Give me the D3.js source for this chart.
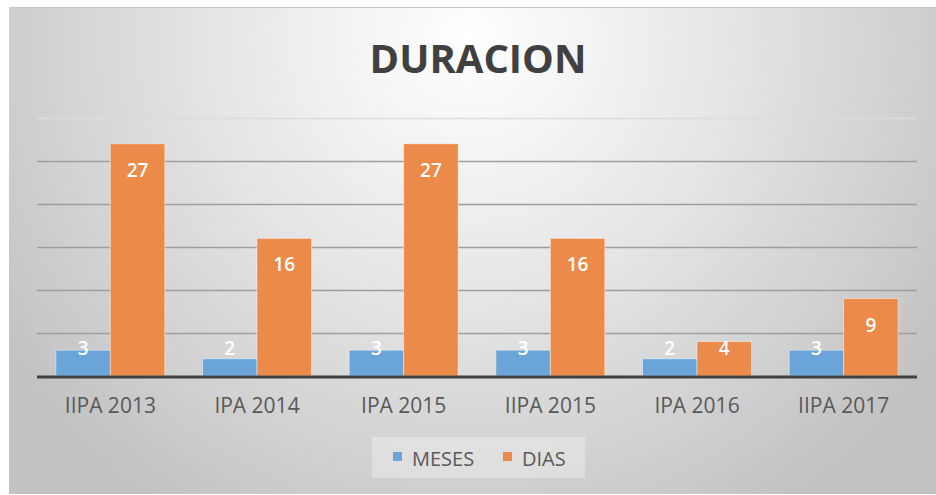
<!DOCTYPE html>
<html>
<head>
<meta charset="utf-8">
<script src="https://cdn.jsdelivr.net/npm/d3@7"></script>
<style>
  body { margin: 0; background: #fff; }
  svg { display: block; font-family: "Open Sans", sans-serif; }
</style>
</head>
<body>
<svg width="936" height="495"></svg>
<script>
let categories = ["IIPA 2013", "IPA 2014", "IPA 2015", "IIPA 2015", "IPA 2016", "IIPA 2017"];
let meses = [3, 2, 3, 3, 2, 3];
let dias = [27, 16, 27, 16, 4, 9];
let seriesNames = ["MESES", "DIAS"];
let yTicks = [5, 10, 15, 20, 25, 30];

let width = 936;
let height = 495;
let colors = ["#6aa4d9", "#ec8a49"];

let svg = d3.select("svg");

// background gradient like the excel chart style
let defs = svg.append("defs");
let grad = defs.append("radialGradient")
    .attr("id", "bg")
    .attr("gradientUnits", "userSpaceOnUse")
    .attr("cx", 470).attr("cy", 40).attr("r", 560);
grad.append("stop").attr("offset", "0%").attr("stop-color", "#ffffff");
grad.append("stop").attr("offset", "45%").attr("stop-color", "#e6e6e6");
grad.append("stop").attr("offset", "100%").attr("stop-color", "#c2c2c2");

svg.append("rect")
    .attr("x", 9).attr("y", 7)
    .attr("width", width - 9).attr("height", 487)
    .attr("fill", "url(#bg)");
svg.append("line")
    .attr("x1", 9).attr("x2", width).attr("y1", 7.5).attr("y2", 7.5)
    .attr("stroke", "#c8c8c8");

let rows = categories.map((c, i) => ({ category: c, values: [meses[i], dias[i]] }));

let x = d3.scaleBand()
    .domain(categories)
    .range([37, 917])
    .paddingInner(0.257)
    .paddingOuter(0.1285);

let xSub = d3.scaleBand()
    .domain(seriesNames)
    .range([0, x.bandwidth()]);

let y = d3.scaleLinear()
    .domain([0, 30])
    .range([376, 118]);

// gridlines
svg.append("g")
    .selectAll("line")
    .data(yTicks)
    .enter()
    .append("line")
    .attr("x1", 37).attr("x2", 917)
    .attr("y1", d => Math.round(y(d)) + 0.5)
    .attr("y2", d => Math.round(y(d)) + 0.5)
    .attr("stroke", d => d === 30 ? "#dcdcdc" : "#9e9e9e")
    .attr("stroke-width", 1.3);

// bars
let groups = svg.append("g")
    .selectAll(".group")
    .data(rows)
    .enter()
    .append("g")
    .attr("class", "group")
    .attr("transform", d => `translate(${x(d.category)},0)`);

groups.selectAll("rect")
    .data(d => d.values.map((v, i) => ({ name: seriesNames[i], value: v, i: i })))
    .enter()
    .append("rect")
    .attr("x", d => xSub(d.name))
    .attr("width", xSub.bandwidth())
    .attr("y", d => y(d.value))
    .attr("height", d => y(0) - y(d.value))
    .attr("fill", d => colors[d.i])
    .attr("stroke", "rgba(255,255,255,0.45)")
    .attr("stroke-width", 1);

groups.selectAll("text")
    .data(d => d.values.map((v, i) => ({ name: seriesNames[i], value: v, i: i })))
    .enter()
    .append("text")
    .attr("x", d => xSub(d.name) + xSub.bandwidth() / 2)
    .attr("y", d => Math.min(y(d.value) + 33, y(0) - 21))
    .attr("text-anchor", "middle")
    .attr("fill", "#ffffff")
    .attr("font-size", 19)
    .attr("font-weight", 600)
    .text(d => d.value);

// axis line
svg.append("line")
    .attr("x1", 37).attr("x2", 917)
    .attr("y1", y(0) + 1).attr("y2", y(0) + 1)
    .attr("stroke", "#404040")
    .attr("stroke-width", 3);

// category labels
let xAxis = svg.append("g")
    .attr("transform", `translate(0,${y(0)})`)
    .call(d3.axisBottom(x).tickSize(0).tickPadding(22));
xAxis.select(".domain").remove();
xAxis.selectAll("text")
    .attr("font-family", "Open Sans, sans-serif")
    .attr("font-size", 21)
    .attr("fill", "#595959");

// title
svg.append("text")
    .attr("x", 478).attr("y", 73)
    .attr("text-anchor", "middle")
    .attr("font-size", 40)
    .attr("font-weight", 700)
    .attr("fill", "#404040")
    .text("DURACION");

// legend
let legend = svg.append("g");
legend.append("rect")
    .attr("x", 372).attr("y", 437)
    .attr("width", 213).attr("height", 41)
    .attr("fill", "rgba(255,255,255,0.3)");

let legendX = [393, 503];
let items = legend.selectAll(".item")
    .data(seriesNames)
    .enter()
    .append("g")
    .attr("class", "item")
    .attr("transform", (d, i) => `translate(${legendX[i]},0)`);
items.append("rect")
    .attr("x", 0).attr("y", 452)
    .attr("width", 9).attr("height", 9)
    .attr("fill", (d, i) => colors[i]);
items.append("text")
    .attr("x", 19).attr("y", 466)
    .attr("font-size", 20)
    .attr("fill", "#595959")
    .text(d => d);
</script>
</body>
</html>
